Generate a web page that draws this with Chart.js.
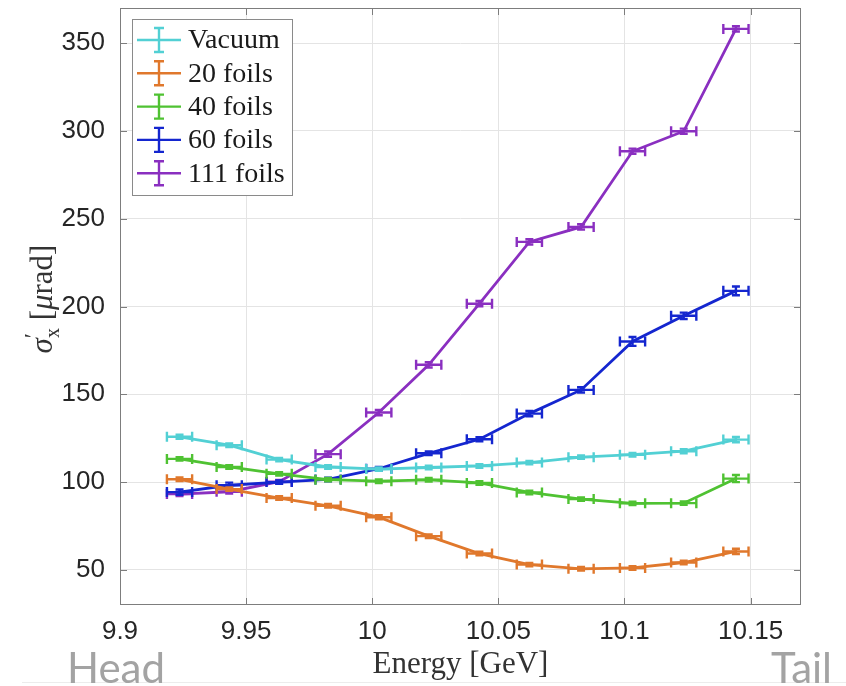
<!DOCTYPE html>
<html>
<head>
<meta charset="utf-8">
<script src="https://cdn.jsdelivr.net/npm/chart.js@4.4.0/dist/chart.umd.min.js"></script>
<style>
  html, body { margin: 0; padding: 0; background: #fff; }
</style>
</head>
<body>
<canvas id="myChart" width="846" height="686"></canvas>
<script>
// bin centres [GeV] and half-widths of the energy bins
const energy = [9.9236, 9.9433, 9.9631, 9.9825, 10.0026, 10.0224, 10.0425, 10.0623, 10.0828, 10.1032, 10.1235, 10.1442];
const energyErr = 0.005;

// divergence per bin [urad]
const vacuum   = [125.8, 121.0, 112.8, 108.6, 107.4, 108.3, 109.2, 111.1, 114.2, 115.6, 117.6, 124.2];
const foils20  = [101.6, 96.0, 90.9, 86.5, 80.0, 69.2, 59.3, 53.0, 50.6, 51.1, 54.2, 60.5];
const foils40  = [113.2, 108.6, 104.7, 101.4, 100.5, 101.3, 99.5, 94.1, 90.3, 87.9, 88.0, 102.0];
const foils60  = [94.3, 98.2, 100.0, 101.5, 107.6, 116.4, 124.4, 139.0, 152.5, 180.1, 194.7, 208.9];
const foils111 = [93.2, 94.5, 100.2, 115.9, 139.6, 166.8, 201.6, 236.8, 245.3, 288.4, 299.8, 358.1];

const vacuumErr   = [1.2, 1, 1, 1, 1, 1, 1, 1, 1, 1, 1.2, 1.5];
const foils20Err  = [1, 1, 1, 1, 1.2, 1, 1, 1, 1, 1, 1, 1.5];
const foils40Err  = [1, 1, 1, 1, 1, 1, 1, 1, 1, 1, 1, 2];
const foils60Err  = [1.5, 1.5, 1, 1, 1, 1, 1.2, 1.5, 1.5, 2.5, 1.8, 2.5];
const foils111Err = [1.2, 1, 1, 1.5, 1.5, 1.5, 1.5, 1.5, 1.5, 1.5, 1.5, 1.5];

const names  = ["Vacuum", "20 foils", "40 foils", "60 foils", "111 foils"];
const colors = ["#52d0d4", "#e0782c", "#4fc232", "#1426cf", "#8a2fc0"];

const xTicks = [9.9, 9.95, 10, 10.05, 10.1, 10.15];
const yTicks = [50, 100, 150, 200, 250, 300, 350];

const series = [vacuum, foils20, foils40, foils60, foils111];
const seriesErr = [vacuumErr, foils20Err, foils40Err, foils60Err, foils111Err];

let datasets = [];
series.forEach((vals, i) => {
    datasets.push({
        label: names[i],
        data: vals.map((v, k) => ({ x: energy[k], y: v, xe: energyErr, ye: seriesErr[i][k] })),
        showLine: true,
        borderColor: colors[i],
        backgroundColor: colors[i],
        borderWidth: 2.8,
        pointRadius: 0,
        tension: 0
    });
});

// error bars for each dataset, right after its line so layering follows dataset order
const errorBars = {
    id: 'errorBars',
    afterDatasetDraw(chart, args) {
        const ctx = chart.ctx;
        const xs = chart.scales.x, ys = chart.scales.y;
        const ds = chart.data.datasets[args.index];
        ctx.save();
        ctx.strokeStyle = ds.borderColor;
        ctx.lineWidth = 2.4;
        ds.data.forEach(p => {
            const px = xs.getPixelForValue(p.x), py = ys.getPixelForValue(p.y);
            const x0 = xs.getPixelForValue(p.x - p.xe), x1 = xs.getPixelForValue(p.x + p.xe);
            const y0 = ys.getPixelForValue(p.y - p.ye), y1 = ys.getPixelForValue(p.y + p.ye);
            ctx.beginPath();
            ctx.moveTo(x0, py); ctx.lineTo(x1, py);
            ctx.moveTo(x0, py - 5); ctx.lineTo(x0, py + 5);
            ctx.moveTo(x1, py - 5); ctx.lineTo(x1, py + 5);
            ctx.moveTo(px, y0); ctx.lineTo(px, y1);
            ctx.moveTo(px - 4, y0); ctx.lineTo(px + 4, y0);
            ctx.moveTo(px - 4, y1); ctx.lineTo(px + 4, y1);
            ctx.stroke();
        });
        ctx.restore();
    }
};

// box, inward ticks, legend and the text around the axes
const decorations = {
    id: 'decorations',
    afterDraw(chart) {
        const ctx = chart.ctx;
        const a = chart.chartArea;
        const xs = chart.scales.x, ys = chart.scales.y;
        ctx.save();
        ctx.strokeStyle = '#7d7d7d';
        ctx.lineWidth = 1;
        ctx.strokeRect(a.left + 0.5, a.top + 0.5, a.right - a.left - 1, a.bottom - a.top - 1);
        ctx.beginPath();
        xs.ticks.forEach(t => {
            const px = Math.round(xs.getPixelForValue(t.value)) + 0.5;
            ctx.moveTo(px, a.bottom); ctx.lineTo(px, a.bottom - 7);
            ctx.moveTo(px, a.top); ctx.lineTo(px, a.top + 7);
        });
        ys.ticks.forEach(t => {
            const py = Math.round(ys.getPixelForValue(t.value)) + 0.5;
            ctx.moveTo(a.left, py); ctx.lineTo(a.left + 7, py);
            ctx.moveTo(a.right, py); ctx.lineTo(a.right - 7, py);
        });
        ctx.stroke();

        // legend
        const lx = 132, ly = 19, lw = 160, lh = 176;
        ctx.fillStyle = '#fff';
        ctx.fillRect(lx, ly, lw, lh);
        ctx.strokeStyle = '#8a8a8a';
        ctx.strokeRect(lx + 0.5, ly + 0.5, lw, lh);
        ctx.font = '28px "Liberation Serif"';
        ctx.textBaseline = 'middle';
        ctx.textAlign = 'left';
        names.forEach((n, i) => {
            const cy = ly + 21 + i * 33.3;
            ctx.strokeStyle = colors[i];
            ctx.lineWidth = 2.4;
            ctx.beginPath();
            ctx.moveTo(137, cy); ctx.lineTo(181, cy);
            ctx.moveTo(159, cy - 12); ctx.lineTo(159, cy + 12);
            ctx.moveTo(154, cy - 12); ctx.lineTo(164, cy - 12);
            ctx.moveTo(154, cy + 12); ctx.lineTo(164, cy + 12);
            ctx.stroke();
            ctx.fillStyle = '#1a1a1a';
            ctx.fillText(n, 188, cy + 1);
        });

        // axis titles
        ctx.fillStyle = '#333';
        ctx.font = '31px "Liberation Serif"';
        ctx.textAlign = 'center';
        ctx.textBaseline = 'alphabetic';
        ctx.fillText('Energy [GeV]', (a.left + a.right) / 2, 673);

        const parts = [
            { t: 'σ', f: 'italic 31px "Liberation Serif"', dy: 0 },
            { t: '′', f: '23px "Liberation Serif"', dy: -12 },
            { t: 'x', f: '20px "Liberation Serif"', dy: 7, back: 5 },
            { t: ' [', f: '31px "Liberation Serif"', dy: 0 },
            { t: 'μ', f: 'italic 31px "Liberation Serif"', dy: 0 },
            { t: 'rad]', f: '31px "Liberation Serif"', dy: 0 }
        ];
        let total = 0;
        parts.forEach(p => { ctx.font = p.f; p.w = ctx.measureText(p.t).width; total += p.w - (p.back || 0); });
        ctx.translate(52, 299);
        ctx.rotate(-Math.PI / 2);
        ctx.textAlign = 'left';
        let cx = -total / 2;
        parts.forEach(p => {
            ctx.font = p.f;
            cx -= (p.back || 0);
            ctx.fillText(p.t, cx, p.dy);
            cx += p.w;
        });
        ctx.setTransform(1, 0, 0, 1, 0, 0);

        // faint rule under the plot and the bunch orientation labels
        ctx.strokeStyle = '#ececec';
        ctx.lineWidth = 1;
        ctx.beginPath();
        ctx.moveTo(22, 682.5); ctx.lineTo(846, 682.5);
        ctx.stroke();
        ctx.fillStyle = '#a3a3a3';
        ctx.font = '42px Lato';
        ctx.textAlign = 'left';
        ctx.fillText('Head', 67, 683);
        ctx.textAlign = 'right';
        ctx.fillText('Tail', 832, 683);
        ctx.restore();
    }
};

const ctx = document.getElementById('myChart').getContext('2d');
const chart = new Chart(ctx, {
    type: 'scatter',
    data: { datasets: datasets },
    plugins: [errorBars, decorations],
    options: {
        responsive: false,
        animation: false,
        layout: { padding: { left: 0, top: 8, right: 45, bottom: 0 } },
        plugins: { legend: { display: false }, tooltip: { enabled: false } },
        scales: {
            x: {
                type: 'linear',
                min: 9.9,
                max: 10.17,
                afterBuildTicks: s => { s.ticks = xTicks.map(v => ({ value: v })); },
                afterFit: s => { s.height = 81; s.paddingLeft = 0; s.paddingRight = 0; },
                grid: { color: '#e4e4e4', drawTicks: false },
                border: { display: false },
                ticks: {
                    padding: 11,
                    color: '#262626',
                    font: { family: '"Liberation Sans"', size: 26 },
                    callback: v => String(Math.round(v * 100) / 100)
                }
            },
            y: {
                type: 'linear',
                min: 30,
                max: 370,
                afterBuildTicks: s => { s.ticks = yTicks.map(v => ({ value: v })); },
                afterFit: s => { s.width = 120; s.paddingTop = 0; s.paddingBottom = 0; },
                grid: { color: '#e4e4e4', drawTicks: false },
                border: { display: false },
                ticks: {
                    padding: 15,
                    color: '#262626',
                    font: { family: '"Liberation Sans"', size: 26 }
                }
            }
        }
    }
});
</script>
</body>
</html>
